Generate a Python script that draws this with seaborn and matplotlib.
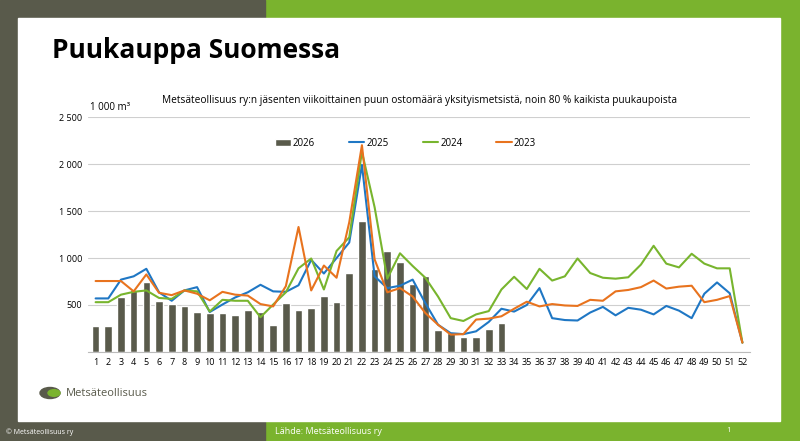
import matplotlib
matplotlib.use("Agg")
import matplotlib.pyplot as plt
import seaborn as sns
import numpy as np
import pandas as pd
from matplotlib.patches import Rectangle, Circle

weeks = list(range(1, 53))
v2026 = [280,280,590,660,750,540,510,490,430,410,420,390,450,430,290,520,450,470,600,530,
         840,1390,880,1070,960,720,810,230,200,160,160,240,310]
v2025 = [570,570,770,805,885,635,545,655,690,425,505,580,635,715,645,640,710,980,835,1000,
         1165,1990,805,680,705,770,520,290,200,190,220,320,460,430,500,680,360,340,335,420,
         480,390,470,450,400,490,440,360,620,740,625,100]
v2024 = [530,530,610,640,655,575,565,655,645,430,555,545,545,370,505,635,890,995,665,1075,
         1220,2130,1540,780,1050,915,790,590,360,330,400,435,665,800,670,885,760,805,995,840,
         790,780,795,930,1130,940,900,1045,940,890,890,100]
v2023 = [755,755,755,645,825,630,605,655,620,550,640,610,600,510,485,700,1330,655,920,790,
         1380,2200,985,635,680,590,415,290,185,190,345,355,380,460,535,485,510,495,490,555,
         545,645,660,690,760,675,695,705,530,555,595,100]
yticks = [0, 500, 1000, 1500, 2000, 2500]
ylabels = ["", "500", "1 000", "1 500", "2 000", "2 500"]

sns.set_style("white")
plt.rcParams['font.family'] = ['Open Sans', 'DejaVu Sans']
plt.rcParams['text.color'] = 'black'
fig = plt.figure(figsize=(8, 4.41), dpi=100)
W, H = 800, 441
def R(x, y, w, h, c):
    fig.patches.append(Rectangle((x/W, 1-(y+h)/H), w/W, h/H, transform=fig.transFigure, color=c, zorder=-5))
R(0, 0, 800, 441, "#7ab32e")
R(0, 0, 265, 441, "#595a4b")
R(18, 18, 762, 403, "white")
fig.text(52/W, 1-50/H, "Puukauppa Suomessa", fontsize=19, fontweight="bold", va="center", color="black")
fig.text(420/W, 1-101/H, "Metsäteollisuus ry:n jäsenten viikoittainen puun ostomäärä yksityismetsistä, noin 80 % kaikista puukaupoista",
         fontsize=7.3, ha="center", va="center", color="black")
fig.text(90/W, 1-107/H, "1 000 m³", fontsize=7, va="center", color="black")
fig.text(6/W, 1-432/H, "© Metsäteollisuus ry", fontsize=5, color="white", va="center")
fig.text(275/W, 1-431/H, "Lähde: Metsäteollisuus ry", fontsize=6.5, color="white", va="center")
fig.text(726/W, 1-431/H, "1", fontsize=5.5, color="white", va="center")
fig.text(66/W, 1-394/H, "Metsäteollisuus", fontsize=8, color="#595a4b", va="center")
fig.patches.append(Circle((50/W, 1-393/H), 10/W, transform=fig.transFigure, color="#595a4b", zorder=-1))
fig.patches.append(Circle((54/W, 1-393/H), 6/W, transform=fig.transFigure, color="#7ab32e", zorder=-1))

ax = fig.add_axes([88/W, 1-352/H, 662/W, 235/H])
ax.set_zorder(5)
ax.patch.set_alpha(0)
pos = np.arange(52)
ax.bar(np.arange(len(v2026)), v2026, width=0.6, color="#595a4b", label="2026", zorder=2)
for vals, c, l in [(v2025, "#1f77c4", "2025"), (v2024, "#78b52e", "2024"), (v2023, "#e8731e", "2023")]:
    sns.lineplot(x=pos, y=vals, color=c, lw=1.5, label=l, ax=ax, zorder=3)
ax.set_xlim(-0.6, 51.6)
ax.set_ylim(0, 2500)
ax.set_yticks(yticks)
ax.set_yticklabels(ylabels, fontsize=6.5, color="black")
ax.set_xticks(pos)
ax.set_xticklabels([str(w) for w in weeks], fontsize=6.5, color="black")
ax.tick_params(axis="both", length=0, pad=4)
ax.grid(axis="y", color="#cfcfcf", lw=0.8)
for s in ["top", "right", "left"]:
    ax.spines[s].set_visible(False)
ax.spines["bottom"].set_color("#bbbbbb")
h, l = ax.get_legend_handles_labels()
order = [l.index(k) for k in ["2026", "2025", "2024", "2023"]]
ax.legend([h[i] for i in order], [l[i] for i in order], ncol=4, loc="upper center",
          bbox_to_anchor=(0.48, 0.95), frameon=False, fontsize=7,
          handlelength=1.6, columnspacing=3.5, handletextpad=0.2)
fig.savefig("out.png", dpi=100)
